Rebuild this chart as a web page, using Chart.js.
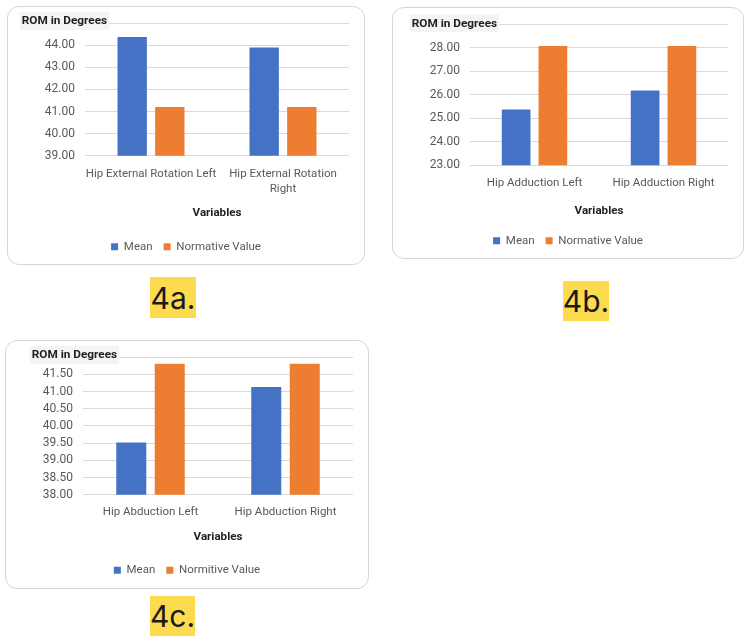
<!DOCTYPE html>
<html><head><meta charset="utf-8">
<script src="https://cdn.jsdelivr.net/npm/chart.js@4.4.1/dist/chart.umd.min.js"></script>
<style>
html,body{margin:0;padding:0;background:#fff;width:750px;height:641px;overflow:hidden;position:relative;}
.box{position:absolute;border:1px solid #d6d6d6;border-radius:12px;box-sizing:border-box;background:#fff;}
canvas{position:absolute;}
.tag{position:absolute;background:#fcdb4e;font-family:Inter,'Liberation Sans',sans-serif;font-size:30px;color:#1a1a1a;display:flex;align-items:center;justify-content:center;line-height:1;}
</style></head>
<body>
<div class="box" style="left:7px;top:6px;width:358px;height:259px"></div>
<div class="box" style="left:392px;top:7px;width:352px;height:252px"></div>
<div class="box" style="left:5px;top:340px;width:364px;height:249px"></div>
<canvas id="c4a" width="358" height="259" style="left:7px;top:6px"></canvas>
<canvas id="c4b" width="352" height="252" style="left:392px;top:7px"></canvas>
<canvas id="c4c" width="364" height="249" style="left:5px;top:340px"></canvas>
<div class="tag" style="left:150px;top:277px;width:46px;height:41px">4a.</div>
<div class="tag" style="left:563px;top:281px;width:46px;height:40px">4b.</div>
<div class="tag" style="left:150px;top:596px;width:45px;height:40px">4c.</div>
<script>
// ---- data ----
const categories4a = ['Hip External Rotation Left', ['Hip External Rotation', 'Right']];
const mean4a = [44.38, 43.90];
const normative4a = [41.20, 41.20];
const yRange4a = [39, 45, 1];

const categories4b = ['Hip Adduction Left', 'Hip Adduction Right'];
const mean4b = [25.37, 26.18];
const normative4b = [28.07, 28.07];
const yRange4b = [23, 29, 1];

const categories4c = ['Hip Abduction Left', 'Hip Abduction Right'];
const mean4c = [39.52, 41.13];
const normative4c = [41.81, 41.81];
const yRange4c = [38, 42, 0.5];

const seriesNames4a = ['Mean', 'Normative Value'];
const seriesNames4b = ['Mean', 'Normative Value'];
const seriesNames4c = ['Mean', 'Normitive Value'];
const yTitle = 'ROM in Degrees';
const xTitle = 'Variables';

// ---- drawing ----
const FONT = "Roboto, sans-serif";
const cornerTitle = {
  id: 'cornerTitle',
  afterDraw(chart, args, o) {
    const ctx = chart.ctx;
    ctx.save();
    ctx.font = 'bold 11.8px ' + FONT;
    const w = ctx.measureText(o.text).width;
    ctx.fillStyle = '#f4f4f4';
    ctx.fillRect(o.x - 2, o.y - 9, w + 4, 18);
    ctx.fillStyle = '#1f1f1f';
    ctx.textBaseline = 'middle';
    ctx.textAlign = 'left';
    ctx.fillText(o.text, o.x, o.y + 0.5);
    ctx.restore();
  }
};

function makeChart(id, cats, mean, norm, names, range, g) {
  return new Chart(document.getElementById(id), {
    type: 'bar',
    data: {
      labels: cats,
      datasets: [
        { label: names[0], data: mean, backgroundColor: '#4472C4', categoryPercentage: 0.57, barPercentage: 0.78 },
        { label: names[1], data: norm, backgroundColor: '#ED7D31', categoryPercentage: 0.57, barPercentage: 0.78 }
      ]
    },
    options: {
      responsive: false,
      animation: false,
      layout: { padding: { top: g.top, left: 0, right: 0, bottom: g.bottom } },
      scales: {
        x: {
          grid: { display: false, drawTicks: false },
          border: { display: false },
          ticks: { color: '#595959', font: { family: FONT, size: 11.5, lineHeight: 1.3 }, padding: g.tickPad, maxRotation: 0, autoSkip: false },
          title: { display: true, text: xTitle, color: '#1f1f1f', font: { family: FONT, size: 11.6, weight: 'bold' }, padding: { top: 0, bottom: g.titlePad } },
          afterFit: s => { s.height = g.xH; }
        },
        y: {
          min: range[0], max: range[1],
          grid: { color: '#d9d9d9', drawTicks: false },
          border: { display: false },
          ticks: { stepSize: range[2], autoSkip: false, color: '#595959', padding: 10, font: { family: FONT, size: 12 },
                   callback: (v, i, t) => i === t.length - 1 ? '' : Number(v).toFixed(2) },
          afterFit: s => { s.width = 78; }
        },
        yR: {
          type: 'linear', position: 'right', display: true,
          grid: { display: false }, border: { display: false }, ticks: { display: false },
          afterFit: s => { s.width = 16; }
        }
      },
      plugins: {
        legend: { position: 'bottom', labels: { boxWidth: 7, boxHeight: 7, padding: 11, color: '#595959', font: { family: FONT, size: 11.5 } } },
        tooltip: { enabled: false },
        cornerTitle: { text: yTitle, x: g.tx, y: g.ty }
      }
    },
    plugins: [cornerTitle]
  });
}

makeChart('c4a', categories4a, mean4a, normative4a, seriesNames4a, yRange4a,
  { top: 15, bottom: 2.4, xH: 74.4, tickPad: 10.8, titlePad: 9.6, tx: 14.7, ty: 15 });
makeChart('c4b', categories4b, mean4b, normative4b, seriesNames4b, yRange4b,
  { top: 16.3, bottom: 2.4, xH: 58.8, tickPad: 10.6, titlePad: 6.3, tx: 19.7, ty: 16.3 });
makeChart('c4c', categories4c, mean4c, normative4c, seriesNames4c, yRange4c,
  { top: 15, bottom: 3, xH: 58.8, tickPad: 10.2, titlePad: 9, tx: 26.7, ty: 15 });
</script>
</body></html>
